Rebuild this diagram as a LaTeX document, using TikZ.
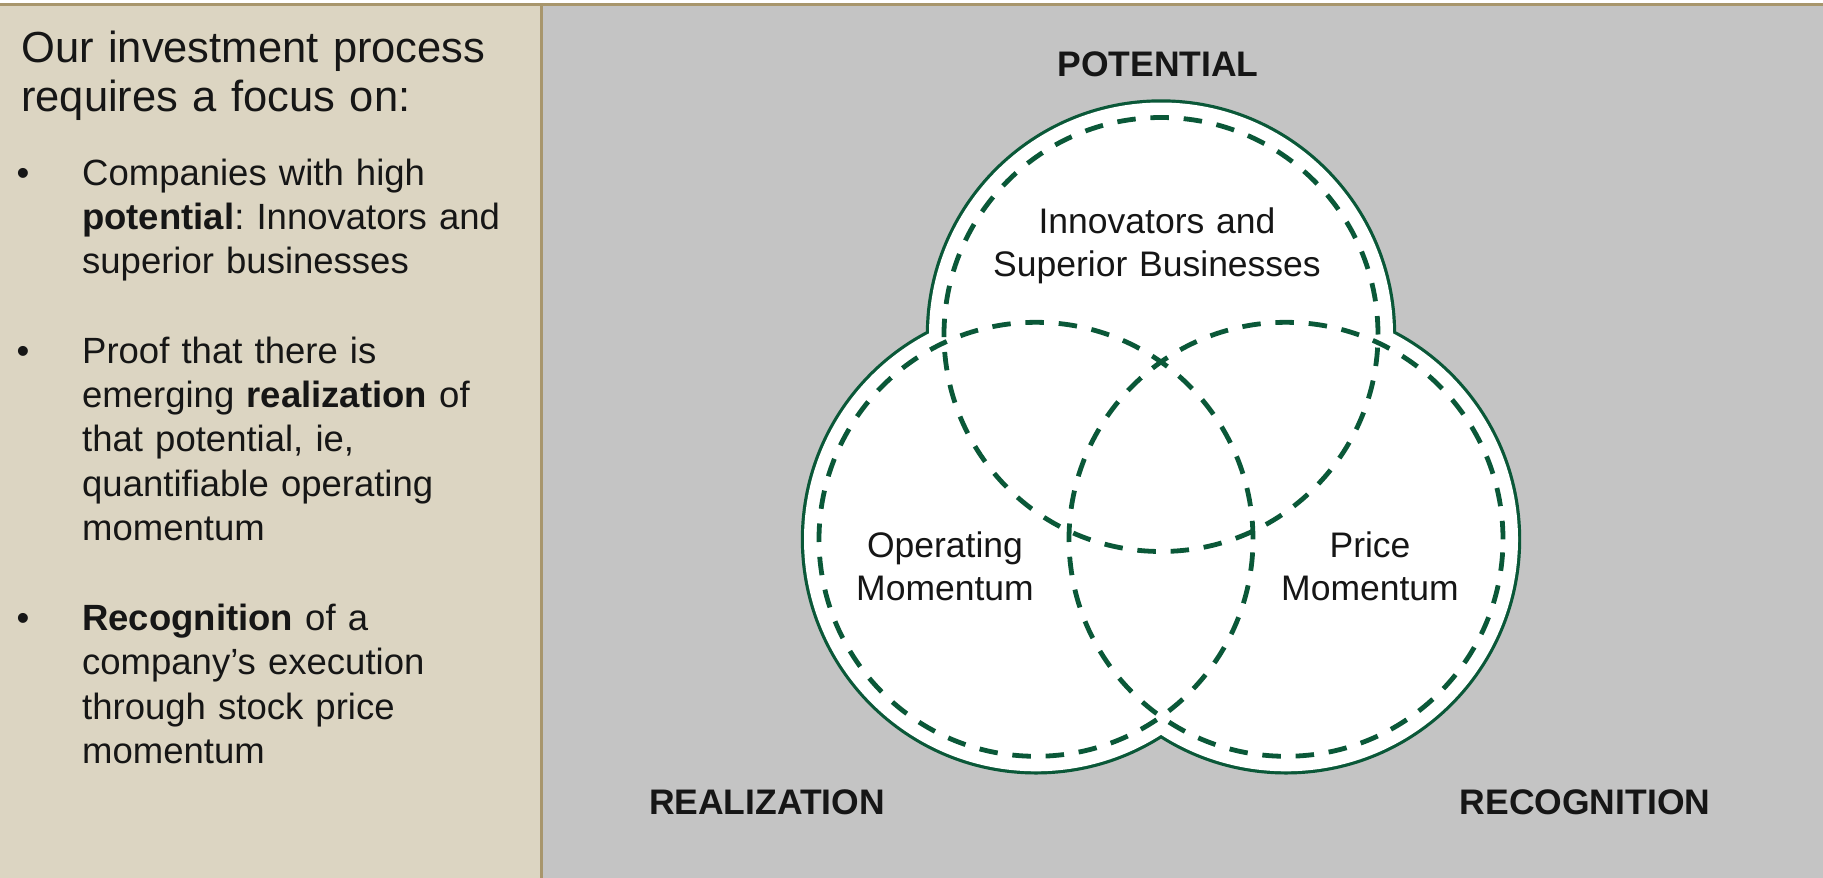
\documentclass[tikz,border=0pt]{standalone}
\usepackage{fontspec}
\setmainfont{Liberation Sans}
\definecolor{gold}{RGB}{168,150,108}
\definecolor{beige}{RGB}{220,213,194}
\definecolor{panelgray}{RGB}{196,196,196}
\definecolor{vgreen}{RGB}{10,88,56}
\definecolor{ink}{RGB}{22,22,22}
\frenchspacing
\tikzset{
  outerline/.style={draw=vgreen, line width=6.4pt},
  dashcirc/.style={draw=vgreen, line width=4.8pt, dash pattern=on 18.5pt off 14.8pt},
  headtxt/.style={inner sep=0pt, anchor=base west, text width=520pt, align=left, text=ink, font=\fontsize{43.5}{48.8}\selectfont},
  bodytxt/.style={inner sep=0pt, anchor=base west, text width=455pt, align=left, text=ink, font=\fontsize{36.5}{44.2}\selectfont},
  bul/.style={inner sep=0pt, anchor=base, text=ink, font=\fontsize{36.5}{44.2}\selectfont},
  circtxt/.style={inner sep=0pt, anchor=base, text width=420pt, align=center, text=ink, font=\fontsize{35.5}{43}\selectfont},
  captxt/.style={inner sep=0pt, anchor=base, text=ink, font=\bfseries\fontsize{35.5}{42}\selectfont},
}
\begin{document}
\frenchspacing
\begin{tikzpicture}[x=1pt,y=-1pt]
\useasboundingbox (0,0) rectangle (1823,878);
% panels
\fill[white] (0,0) rectangle (1823,878);
\fill[gold] (0,3) rectangle (1823,5.5);
\fill[beige] (0,5.5) rectangle (540,878);
\fill[gold] (540,5.5) rectangle (542.5,878);
\fill[panelgray] (542.5,5.5) rectangle (1823,878);
% left text
\node[headtxt] (head) at (21,62.9) {Our investment process\\requires a focus on:};
\node[bul] (b1) at (23,185) {•};
\node[bodytxt] (t1) at (82,185) {Companies with high\\\textbf{potential}: Innovators and\\superior businesses};
\node[bul] (b2) at (23,363.4) {•};
\node[bodytxt] (t2) at (82,363.4) {Proof that there is\\emerging \textbf{realization} of\\that potential, ie,\\quantifiable operating\\momentum};
\node[bul] (b3) at (23,630.6) {•};
\node[bodytxt] (t3) at (82,630.6) {\textbf{Recognition} of a\\company’s execution\\through stock price\\momentum};
% circles
\coordinate (ct) at (1161,334.5);
\coordinate (cl) at (1036,539.3);
\coordinate (cr) at (1286,539.3);
\draw[outerline] (ct) circle (232pt);
\draw[outerline] (cl) circle (232pt);
\draw[outerline] (cr) circle (232pt);
\fill[white] (ct) circle (232pt);
\fill[white] (cl) circle (232pt);
\fill[white] (cr) circle (232pt);
\draw[dashcirc] (ct) circle (217pt);
\draw[dashcirc] (cl) circle (217pt);
\draw[dashcirc] (cr) circle (217pt);
% circle labels
\node[circtxt] (innov) at (1157,233) {Innovators and\\Superior Businesses};
\node[circtxt] (opm) at (945,557) {Operating\\Momentum};
\node[circtxt] (prm) at (1370,557) {Price\\Momentum};
% captions
\node[captxt] (pot) at (1158,76) {POTENTIAL};
\node[captxt] (real) at (767,814) {REALIZATION};
\node[captxt] (reco) at (1585,814) {RECOGNITION};
\end{tikzpicture}
\end{document}
